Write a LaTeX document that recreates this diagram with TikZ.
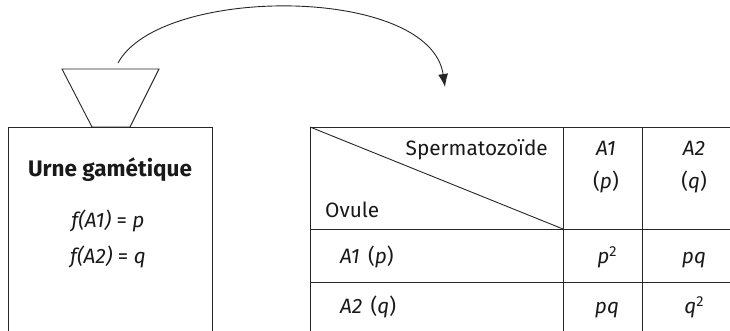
\documentclass[tikz,border=0pt]{standalone}
\usepackage{fontspec}
\setmainfont{Fira Sans}
\usetikzlibrary{arrows.meta}
\newcommand{\taille}{\fontsize{20.8}{25}\selectfont}
\newcommand{\carre}{\raisebox{0.6ex}{\fontsize{14.5}{14.5}\selectfont 2}}

\begin{document}
\begin{tikzpicture}[x=1pt,y=-1pt,
  trait/.style={line width=0.9pt, black!85},
  txt/.style={inner sep=0pt, text=black!90, font=\taille}]
\useasboundingbox (0,0) rectangle (730,331);
\clip (0,0) rectangle (730,331);

% entonnoir et urne
\draw [trait] (62,69)--(159,69)--(130,127)--(92,127)--cycle;
\draw [trait] (8,345)--(8,127)--(212,127)--(212,345);
\node [txt, anchor=base, font=\fontsize{22.5}{26}\selectfont\bfseries] (titre) at (110,177) {Urne gamétique};
\node [txt, anchor=base] (fA1) at (108,227) {\itshape f(A1) \upshape= \itshape p};
\node [txt, anchor=base] (fA2) at (108,263) {\itshape f(A2) \upshape= \itshape q};

% fleche
\coordinate (depart) at (118,63);
\coordinate (arrivee) at (445,87);
\draw [trait, -{Latex[length=13pt,width=10pt]}] (depart) .. controls (160,-15) and (430,-15) .. (arrivee);

% tableau
\coordinate (hg) at (310,127);
\coordinate (c1) at (563,229);
\draw [trait] (310,345)--(hg)--(745,127);
\draw [trait] (310,229)--(745,229);
\draw [trait] (310,282)--(745,282);
\draw [trait] (563,127)--(563,345);
\draw [trait] (642,127)--(642,345);
\draw [trait] (hg)--(c1);

\node [txt, anchor=base east] (sperm) at (548,156) {Spermatozoïde};
\node [txt, anchor=base west] (ovule) at (325,217) {Ovule};
\node [txt, anchor=base] (colA1) at (606,156) {\itshape A1};
\node [txt, anchor=base] (colp) at (606,188) {(\itshape p\upshape)};
\node [txt, anchor=base] (colA2) at (694,156) {\itshape A2};
\node [txt, anchor=base] (colq) at (694,188) {(\itshape q\upshape)};
\node [txt, anchor=base west] (ligA1) at (340,263) {\itshape A1\hspace{0.4em}\upshape(\itshape p\upshape)};
\node [txt, anchor=base west] (ligA2) at (340,313) {\itshape A2\hspace{0.4em}\upshape(\itshape q\upshape)};
\node [txt, anchor=base] (pp) at (607,263) {\itshape p\upshape\carre};
\node [txt, anchor=base] (pq1) at (694,263) {\itshape pq};
\node [txt, anchor=base] (pq2) at (607,313) {\itshape pq};
\node [txt, anchor=base] (qq) at (694,313) {\itshape q\upshape\carre};
\end{tikzpicture}
\end{document}
